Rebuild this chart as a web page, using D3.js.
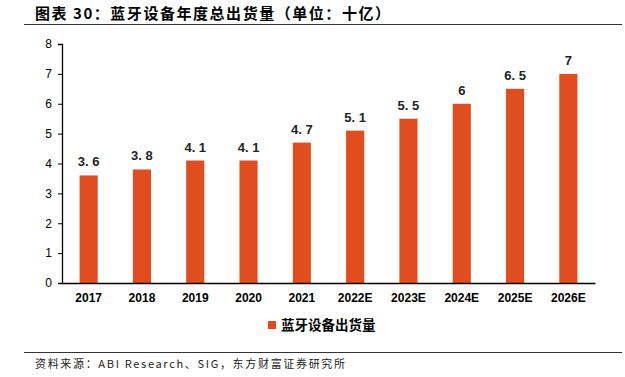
<!DOCTYPE html>
<html>
<head>
<meta charset="utf-8">
<script src="https://cdn.jsdelivr.net/npm/d3@7"></script>
<style>
  body { margin: 0; background: #fff; }
  svg { display: block; }
  .cn { font-family: "Noto Sans CJK SC", sans-serif; }
  .axis text { font-family: "Liberation Sans", Arial, sans-serif; fill: #000; }
</style>
</head>
<body>
<div id="view"></div>
<script>
// data
const years = ["2017","2018","2019","2020","2021","2022E","2023E","2024E","2025E","2026E"];
const shipments = [3.6, 3.8, 4.1, 4.1, 4.7, 5.1, 5.5, 6, 6.5, 7];
const yTicks = [0,1,2,3,4,5,6,7,8];
const seriesName = "蓝牙设备出货量";
const titleText = "图表 30：蓝牙设备年度总出货量（单位：十亿）";
const sourceText = "资料来源：ABI Research、SIG，东方财富证券研究所";

const W = 625, H = 377;
const BAR = "#E04E1F";
const svg = d3.select("#view").append("svg").attr("width", W).attr("height", H);

// title + rules
svg.append("text").attr("class","cn")
  .attr("x", 35).attr("y", 19)
  .attr("textLength", 355).attr("lengthAdjust","spacing")
  .style("font-size","15px").style("font-weight","bold")
  .text(titleText);
svg.append("line").attr("x1",24).attr("x2",622).attr("y1",24.5).attr("y2",24.5)
  .attr("stroke","#333").attr("stroke-width",1.2);
svg.append("line").attr("x1",24).attr("x2",622).attr("y1",352.5).attr("y2",352.5)
  .attr("stroke","#333").attr("stroke-width",1.2);
svg.append("text").attr("class","cn")
  .attr("x", 35).attr("y", 368)
  .attr("textLength", 310).attr("lengthAdjust","spacing")
  .style("font-size","11px").attr("fill","#222")
  .text(sourceText);

// scales
const x = d3.scaleBand().domain(years).range([62, 595]).paddingInner(0.66).paddingOuter(0.33);
const y = d3.scaleLinear().domain([0, 8]).range([283, 44]);

// y axis
const yAxis = svg.append("g").attr("class","axis")
  .attr("transform","translate(62,0)")
  .call(d3.axisLeft(y).tickValues(yTicks).tickSize(4).tickPadding(6));
yAxis.select(".domain").attr("stroke","#000").attr("stroke-width",1.3);
yAxis.selectAll("line").attr("stroke","#000");
yAxis.selectAll("text").style("font-size","12px");

// bars
svg.selectAll("rect.bar").data(shipments).join("rect")
  .attr("class","bar")
  .attr("x", (d,i) => x(years[i]))
  .attr("width", x.bandwidth())
  .attr("y", d => y(d))
  .attr("height", d => y(0) - y(d))
  .attr("fill", BAR);

// value labels
svg.selectAll("text.val").data(shipments).join("text")
  .attr("class","val")
  .attr("x", (d,i) => x(years[i]) + x.bandwidth()/2)
  .attr("y", d => y(d) - 9)
  .attr("text-anchor","middle")
  .style("font-family","\"Liberation Sans\", Arial, sans-serif")
  .style("font-size","13px").style("font-weight","bold").attr("fill","#222")
  .text(d => String(d).replace(".", ". "));

// x axis
const xAxis = svg.append("g").attr("class","axis")
  .attr("transform","translate(0,283)")
  .call(d3.axisBottom(x).tickSize(0).tickPadding(10).tickSizeOuter(0));
xAxis.select(".domain").attr("stroke","#000").attr("stroke-width",1.5);
xAxis.selectAll("text").style("font-size","12px").style("font-weight","bold");

// legend
const lg = svg.append("g").attr("transform","translate(268,321)");
lg.append("rect").attr("width",8).attr("height",8).attr("fill",BAR);
lg.append("text").attr("class","cn").attr("x",13).attr("y",9)
  .style("font-size","13.5px").style("font-weight","bold")
  .text(seriesName);
</script>
</body>
</html>
